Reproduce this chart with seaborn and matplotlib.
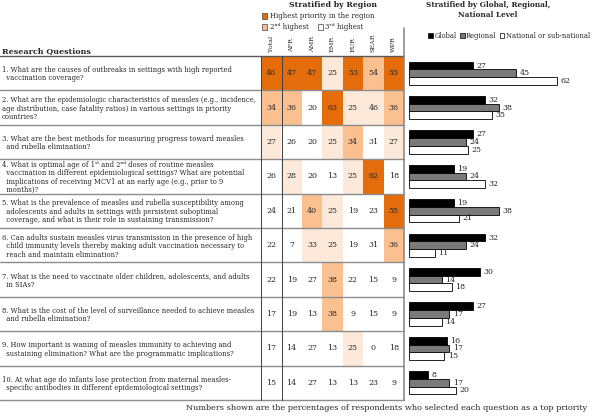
import numpy as np
import pandas as pd
import matplotlib
matplotlib.use('Agg')
import matplotlib.pyplot as plt
import seaborn as sns
from matplotlib.colors import ListedColormap
from matplotlib.patches import Rectangle, Patch
from matplotlib.lines import Line2D

# ---- data ----
regions = ['Total', 'AFR', 'AMR', 'EMR', 'EUR', 'SEAR', 'WPR']

questions = [
    "1. What are the causes of outbreaks in settings with high reported\n  vaccination coverage?",
    "2. What are the epidemiologic characteristics of measles (e.g., incidence,\nage distribution, case fatality ratios) in various settings in priority\ncountries?",
    "3. What are the best methods for measuring progress toward measles\n  and rubella elimination?",
    "4. What is optimal age of 1ˢᵗ and 2ⁿᵈ doses of routine measles\n  vaccination in different epidemiological settings? What are potential\n  implications of receiving MCV1 at an early age (e.g., prior to 9\n  months)?",
    "5. What is the prevalence of measles and rubella susceptibility among\n  adolescents and adults in settings with persistent suboptimal\n  coverage, and what is their role in sustaining transmission?",
    "6. Can adults sustain measles virus transmission in the presence of high\n  child immunity levels thereby making adult vaccination necessary to\n  reach and maintain elimination?",
    "7. What is the need to vaccinate older children, adolescents, and adults\n  in SIAs?",
    "8. What is the cost of the level of surveillance needed to achieve measles\n  and rubella elimination?",
    "9. How important is waning of measles immunity to achieving and\n  sustaining elimination? What are the programmatic implications?",
    "10. At what age do infants lose protection from maternal measles-\n  specific antibodies in different epidemiological settings?",
]

region_pct = [
    [46, 47, 47, 25, 53, 54, 55],
    [34, 36, 20, 63, 25, 46, 36],
    [27, 26, 20, 25, 34, 31, 27],
    [26, 28, 20, 13, 25, 62, 18],
    [24, 21, 40, 25, 19, 23, 55],
    [22, 7, 33, 25, 19, 31, 36],
    [22, 19, 27, 38, 22, 15, 9],
    [17, 19, 13, 38, 9, 15, 9],
    [17, 14, 27, 13, 25, 0, 18],
    [15, 14, 27, 13, 13, 23, 9],
]

# 3 = highest, 2 = 2nd highest, 1 = 3rd highest, 0 = none
priority_rank = [
    [3, 3, 3, 1, 3, 2, 3],
    [2, 2, 0, 3, 1, 1, 2],
    [1, 0, 0, 1, 2, 0, 1],
    [0, 1, 0, 0, 1, 3, 0],
    [0, 0, 2, 1, 0, 0, 3],
    [0, 0, 1, 1, 0, 0, 2],
    [0, 0, 0, 2, 0, 0, 0],
    [0, 0, 0, 2, 0, 0, 0],
    [0, 0, 0, 0, 1, 0, 0],
    [0, 0, 0, 0, 0, 0, 0],
]

levels = ['Global', 'Regional', 'National or sub-national']
global_pct = [27, 32, 27, 19, 19, 32, 30, 27, 16, 8]
regional_pct = [45, 38, 24, 24, 38, 24, 14, 17, 17, 17]
national_pct = [62, 35, 25, 32, 21, 11, 18, 14, 15, 20]

# ---- styling ----
sns.set_style('white')
plt.rcParams['font.family'] = ['DejaVu Serif', 'DejaVu Sans']

rank_colors = ['white', '#FDE9D9', '#FAC090', '#E46C0A']
bar_colors = ['black', '#7a7a7a', 'white']
txt = '#262626'

W, H = 600, 418
fig = plt.figure(figsize=(6, 4.18), dpi=100)


def fx(px):
    return px / W


def fy(py):
    return 1 - py / H


top, bottom = 56, 400
tab_l, tab_r = 261, 404
h = (bottom - top) / H
row_h = (bottom - top) / len(questions)

ax_t = fig.add_axes([fx(tab_l), fy(bottom), fx(tab_r - tab_l), h])
ax_b = fig.add_axes([fx(404), fy(bottom), fx(600 - 404), h])

# question column, one text per line so every row has the same leading
line_gap = 8.4
for i, q in enumerate(questions):
    lines = q.split('\n')
    mid = top + (i + 0.5) * row_h
    for k, ln in enumerate(lines):
        yy = mid + (k - (len(lines) - 1) / 2) * line_gap
        fig.text(fx(2), fy(yy), ln, ha='left', va='center_baseline', fontsize=4.9,
                 color=txt)

# regional table as a heatmap
sns.heatmap(np.array(priority_rank), ax=ax_t, cmap=ListedColormap(rank_colors),
            vmin=-0.5, vmax=3.5, cbar=False, annot=np.array(region_pct), fmt='d',
            annot_kws={'color': txt, 'fontsize': 5.7},
            xticklabels=False, yticklabels=False)
for j, r in enumerate(regions):
    ax_t.text(j + 0.5, -0.12, r, rotation=90, ha='center', va='bottom',
              fontsize=4.6, color=txt, clip_on=False)

# bars by level
df = pd.DataFrame({
    'question': [str(i + 1) for i in range(len(questions))] * 3,
    'level': np.repeat(levels, len(questions)),
    'pct': global_pct + regional_pct + national_pct,
})
sns.barplot(data=df, y='question', x='pct', hue='level', orient='h',
            palette=bar_colors, edgecolor='black', linewidth=0.6, width=0.67,
            ax=ax_b, legend=False)
for c in ax_b.containers:
    ax_b.bar_label(c, padding=2.5, fontsize=5.7, color=txt)
ax_b.set_xlim(-1.9, 80.2)
ax_b.set_xlabel('')
ax_b.set_ylabel('')
ax_b.set_xticks([])
ax_b.set_yticks([])
sns.despine(ax=ax_b, left=True, bottom=True)


# ---- grid lines ----
def fline(x0, y0, x1, y1, color, lw):
    fig.add_artist(Line2D([fx(x0), fx(x1)], [fy(y0), fy(y1)], color=color, lw=lw,
                          transform=fig.transFigure))


fline(0, top, tab_r, top, '#595959', 1.0)
for k in range(1, len(questions) + 1):
    fline(0, top + k * row_h, tab_r, top + k * row_h, '#8c8c8c', 1.0)
fline(261, top, 261, bottom, '#404040', 0.7)
fline(282, top, 282, bottom, '#404040', 0.7)
fline(404, 28, 404, bottom, '#8c8c8c', 1.2)

# ---- headers ----
fig.text(fx(2), fy(51), 'Research Questions', fontsize=5.8, fontweight='bold',
         ha='left', va='center', color=txt)
fig.text(fx(333), fy(5), 'Stratified by Region', fontsize=5.6, fontweight='bold',
         ha='center', va='center', color=txt)
fig.text(fx(488), fy(10), 'Stratified by Global, Regional,\nNational Level',
         fontsize=5.3, fontweight='bold', ha='center', va='center',
         linespacing=1.35, color=txt)


def square(x, y, color):
    fig.add_artist(Rectangle((fx(x), fy(y + 5)), 5 / W, 5 / H, facecolor=color,
                             edgecolor='#404040', lw=0.5, transform=fig.transFigure))


square(262, 13.5, rank_colors[3])
fig.text(fx(270), fy(16), 'Highest priority in the region', fontsize=5.0,
         ha='left', va='center', color=txt)
square(262, 24.5, rank_colors[2])
fig.text(fx(270), fy(27), '2ⁿᵈ highest', fontsize=5.0,
         ha='left', va='center', color=txt)
square(318, 24.5, rank_colors[0])
fig.text(fx(325), fy(27), '3ʳᵈ highest', fontsize=5.0,
         ha='left', va='center', color=txt)

handles = [Patch(facecolor=c, edgecolor='black', lw=0.5) for c in bar_colors]
fig.legend(handles, levels, ncol=3, loc='center', bbox_to_anchor=(fx(509), fy(36)),
           frameon=False, fontsize=4.9, handlelength=0.7, handleheight=0.7,
           handletextpad=0.2, columnspacing=0.5, borderaxespad=0, borderpad=0)

fig.text(fx(387), fy(408),
         'Numbers shown are the percentages of respondents who selected each question as a top priority',
         fontsize=5.9, ha='center', va='center', color=txt)

fig.savefig('out.png', dpi=100)
